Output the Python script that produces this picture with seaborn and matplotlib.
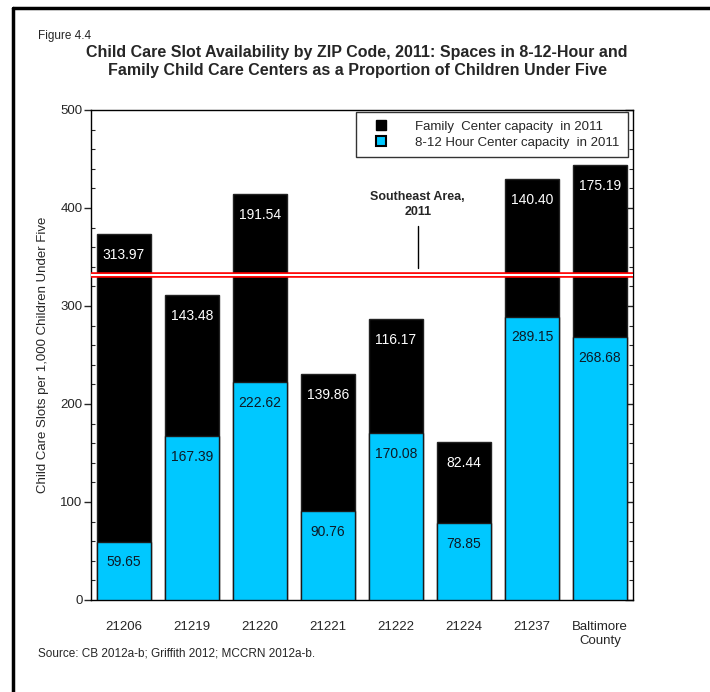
import matplotlib
matplotlib.use("Agg")
import matplotlib.pyplot as plt
import seaborn as sns
import pandas as pd
from matplotlib.ticker import MultipleLocator
from matplotlib.lines import Line2D

categories = ["21206", "21219", "21220", "21221", "21222", "21224", "21237", "Baltimore\nCounty"]
hour_center = [59.65, 167.39, 222.62, 90.76, 170.08, 78.85, 289.15, 268.68]
family_center = [313.97, 143.48, 191.54, 139.86, 116.17, 82.44, 140.40, 175.19]
southeast_area = 331.5

sns.set_theme(style="white")
plt.rcParams['font.family'] = ['Liberation Sans', 'DejaVu Sans']

CYAN = "#00C8FF"

df = pd.DataFrame({
    "zip": categories,
    "hour": hour_center,
    "family": family_center,
})
df["total"] = df["hour"] + df["family"]

fig = plt.figure(figsize=(7.10, 6.92), dpi=100)
ax = fig.add_axes([91/710, 1-600/692, (633-91)/710, (600-110)/692])

sns.barplot(data=df, x="zip", y="total", color="black", width=0.79,
            edgecolor="#222222", linewidth=1.0, saturation=1, ax=ax, zorder=2)
sns.barplot(data=df, x="zip", y="hour", color=CYAN, width=0.79,
            edgecolor="#1a1a1a", linewidth=1.0, saturation=1, ax=ax, zorder=3)

ax.set_xlim(-0.485, 7.485)
ax.set_ylim(0, 500)
ax.set_xlabel("")
ax.set_ylabel("Child Care Slots per 1,000 Children Under Five", fontsize=9.5, labelpad=8)

for i, row in df.iterrows():
    ax.annotate(f"{row['family']:.2f}", (i, row["total"]), xytext=(0, -15),
                textcoords="offset points", ha="center", va="center",
                color="white", fontsize=10, zorder=5)
    ax.annotate(f"{row['hour']:.2f}", (i, row["hour"]), xytext=(0, -15),
                textcoords="offset points", ha="center", va="center",
                color="#0d1a26", fontsize=10, zorder=5)

# reference line (double red)
ax.axhline(southeast_area, color="red", lw=4.0, zorder=4)
ax.axhline(southeast_area, color="white", lw=1.5, zorder=4.5)
ax.text(4.32, 404, "Southeast Area,\n2011", ha="center", va="center",
        fontsize=9, fontweight="bold", linespacing=1.35)
ax.plot([4.32, 4.32], [339, 382], color="black", lw=1.0)

# spines and ticks
for s in ax.spines.values():
    s.set_visible(True)
    s.set_color("black")
    s.set_linewidth(1.0)
ax.yaxis.set_major_locator(MultipleLocator(100))
ax.yaxis.set_minor_locator(MultipleLocator(20))
ax.tick_params(axis="y", which="major", direction="out", length=5, width=1,
               left=True, right=False, labelsize=9.5, pad=1)
ax.tick_params(axis="y", which="minor", direction="in", length=3, width=0.8,
               left=True, right=True)
ax.tick_params(axis="x", which="both", bottom=False, labelsize=9.5, pad=9)
sec = ax.secondary_yaxis("right")
sec.yaxis.set_major_locator(MultipleLocator(100))
sec.tick_params(direction="in", length=6, width=1, labelright=False)
sec.spines["right"].set_visible(False)

# legend
handles = [
    Line2D([], [], marker="s", color="none", markerfacecolor="black",
           markeredgecolor="black", markersize=7),
    Line2D([], [], marker="s", color="none", markerfacecolor=CYAN,
           markeredgecolor="black", markeredgewidth=1.5, markersize=7),
]
leg = ax.legend(handles, ["Family  Center capacity  in 2011", "8-12 Hour Center capacity  in 2011"],
                loc="upper right", bbox_to_anchor=(0.99, 0.995), frameon=True,
                fancybox=False, edgecolor="black", fontsize=9.5,
                handletextpad=1.3, borderpad=0.6, labelspacing=0.3,
                handlelength=2.6, borderaxespad=0)
leg.get_frame().set_linewidth(1.0)

# titles and notes
fig.text(38/710, 1-36/692, "Figure 4.4", fontsize=8.5, va="center", ha="left")
fig.text(357/710, 1-62/692,
         "Child Care Slot Availability by ZIP Code, 2011: Spaces in 8-12-Hour and\n"
         "Family Child Care Centers as a Proportion of Children Under Five",
         fontsize=11.5, fontweight="bold", ha="center", va="center", linespacing=1.25)
fig.text(38/710, 1-654/692, "Source: CB 2012a-b; Griffith 2012; MCCRN 2012a-b.",
         fontsize=8.5, va="center", ha="left")

# outer border (left and top visible)
fig.add_artist(Line2D([13/710, 13/710], [0, 1-8/692], color="black", lw=2.5,
                      transform=fig.transFigure))
fig.add_artist(Line2D([13/710, 1], [1-8/692, 1-8/692], color="black", lw=2.5,
                      transform=fig.transFigure))

fig.savefig("out.png", dpi=100)
